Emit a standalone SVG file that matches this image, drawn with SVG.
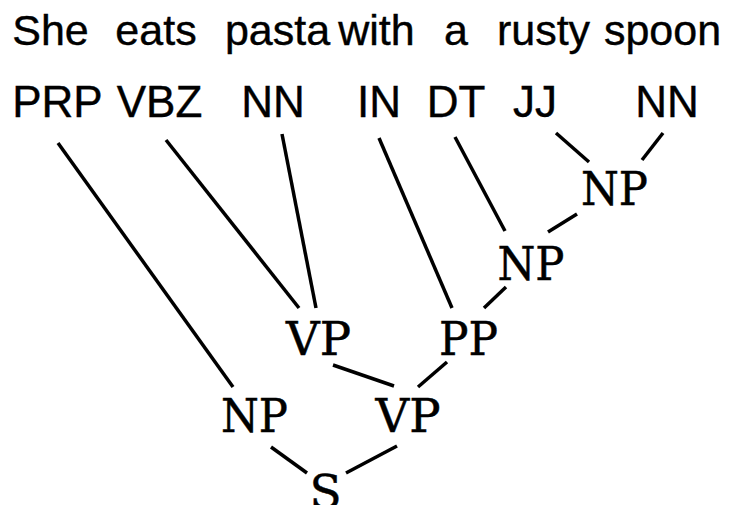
<svg xmlns="http://www.w3.org/2000/svg" width="730" height="505" viewBox="0 0 730 505">
  <style>
    .word { font-family: "Liberation Sans", Arial, sans-serif; font-size: 43px; fill: #000; stroke: #000; stroke-width: 0.4; text-anchor: middle; }
    .tag { font-family: "Liberation Sans", Arial, sans-serif; font-size: 44px; fill: #000; stroke: #000; stroke-width: 0.4; text-anchor: middle; }
    .phrase { font-family: "DejaVu Serif", "Liberation Serif", serif; font-size: 47px; fill: #000; stroke: #000; stroke-width: 0.5; text-anchor: middle; }
    .edge { stroke: #000; stroke-width: 3.5; fill: none; stroke-linecap: butt; }
  </style>
  <rect width="730" height="505" fill="#fff"/>

  <!-- sentence tokens -->
  <g id="words">
    <text class="word" x="50.5" y="45">She</text>
    <text class="word" x="156" y="45">eats</text>
    <text class="word" x="277.5" y="45">pasta</text>
    <text class="word" x="376.5" y="45">with</text>
    <text class="word" x="456" y="45">a</text>
    <text class="word" x="543.5" y="45">rusty</text>
    <text class="word" x="662.5" y="45">spoon</text>
  </g>

  <!-- part-of-speech leaves -->
  <g id="tag-prp"><text class="tag" x="57.5" y="117">PRP</text></g>
  <g id="tag-vbz"><text class="tag" x="159.5" y="117">VBZ</text></g>
  <g id="tag-nn1"><text class="tag" x="273" y="117">NN</text></g>
  <g id="tag-in"><text class="tag" x="379" y="117">IN</text></g>
  <g id="tag-dt"><text class="tag" x="456" y="117">DT</text></g>
  <g id="tag-jj"><text class="tag" x="535" y="117">JJ</text></g>
  <g id="tag-nn2"><text class="tag" x="667" y="117">NN</text></g>

  <!-- phrase nodes -->
  <g id="np-rusty-spoon"><text class="phrase" x="614.5" y="205" textLength="67" lengthAdjust="spacingAndGlyphs">NP</text></g>
  <g id="np-a-rusty-spoon"><text class="phrase" x="531" y="280" textLength="67" lengthAdjust="spacingAndGlyphs">NP</text></g>
  <g id="vp-eats-pasta"><text class="phrase" x="318.5" y="355" textLength="65" lengthAdjust="spacingAndGlyphs">VP</text></g>
  <g id="pp-with"><text class="phrase" x="468.5" y="355" textLength="59" lengthAdjust="spacingAndGlyphs">PP</text></g>
  <g id="np-she"><text class="phrase" x="254.5" y="432" textLength="67" lengthAdjust="spacingAndGlyphs">NP</text></g>
  <g id="vp-main"><text class="phrase" x="408" y="432" textLength="65" lengthAdjust="spacingAndGlyphs">VP</text></g>
  <g id="s-root"><text class="phrase" x="325.5" y="508">S</text></g>

  <!-- tree edges -->
  <g id="connectors">
    <line class="edge" x1="58" y1="143" x2="233" y2="387"/>
    <line class="edge" x1="166" y1="140" x2="299" y2="308"/>
    <line class="edge" x1="282" y1="134" x2="316" y2="308"/>
    <line class="edge" x1="379" y1="138" x2="452" y2="308"/>
    <line class="edge" x1="455" y1="137" x2="505" y2="231"/>
    <line class="edge" x1="556" y1="133" x2="589" y2="162"/>
    <line class="edge" x1="663" y1="133" x2="642" y2="160"/>
    <line class="edge" x1="548" y1="232" x2="577" y2="214"/>
    <line class="edge" x1="506" y1="287" x2="484" y2="308"/>
    <line class="edge" x1="333" y1="365" x2="394" y2="386"/>
    <line class="edge" x1="447" y1="362" x2="418" y2="387"/>
    <line class="edge" x1="271" y1="447" x2="307" y2="473"/>
    <line class="edge" x1="397" y1="446" x2="346" y2="473"/>
  </g>
</svg>
